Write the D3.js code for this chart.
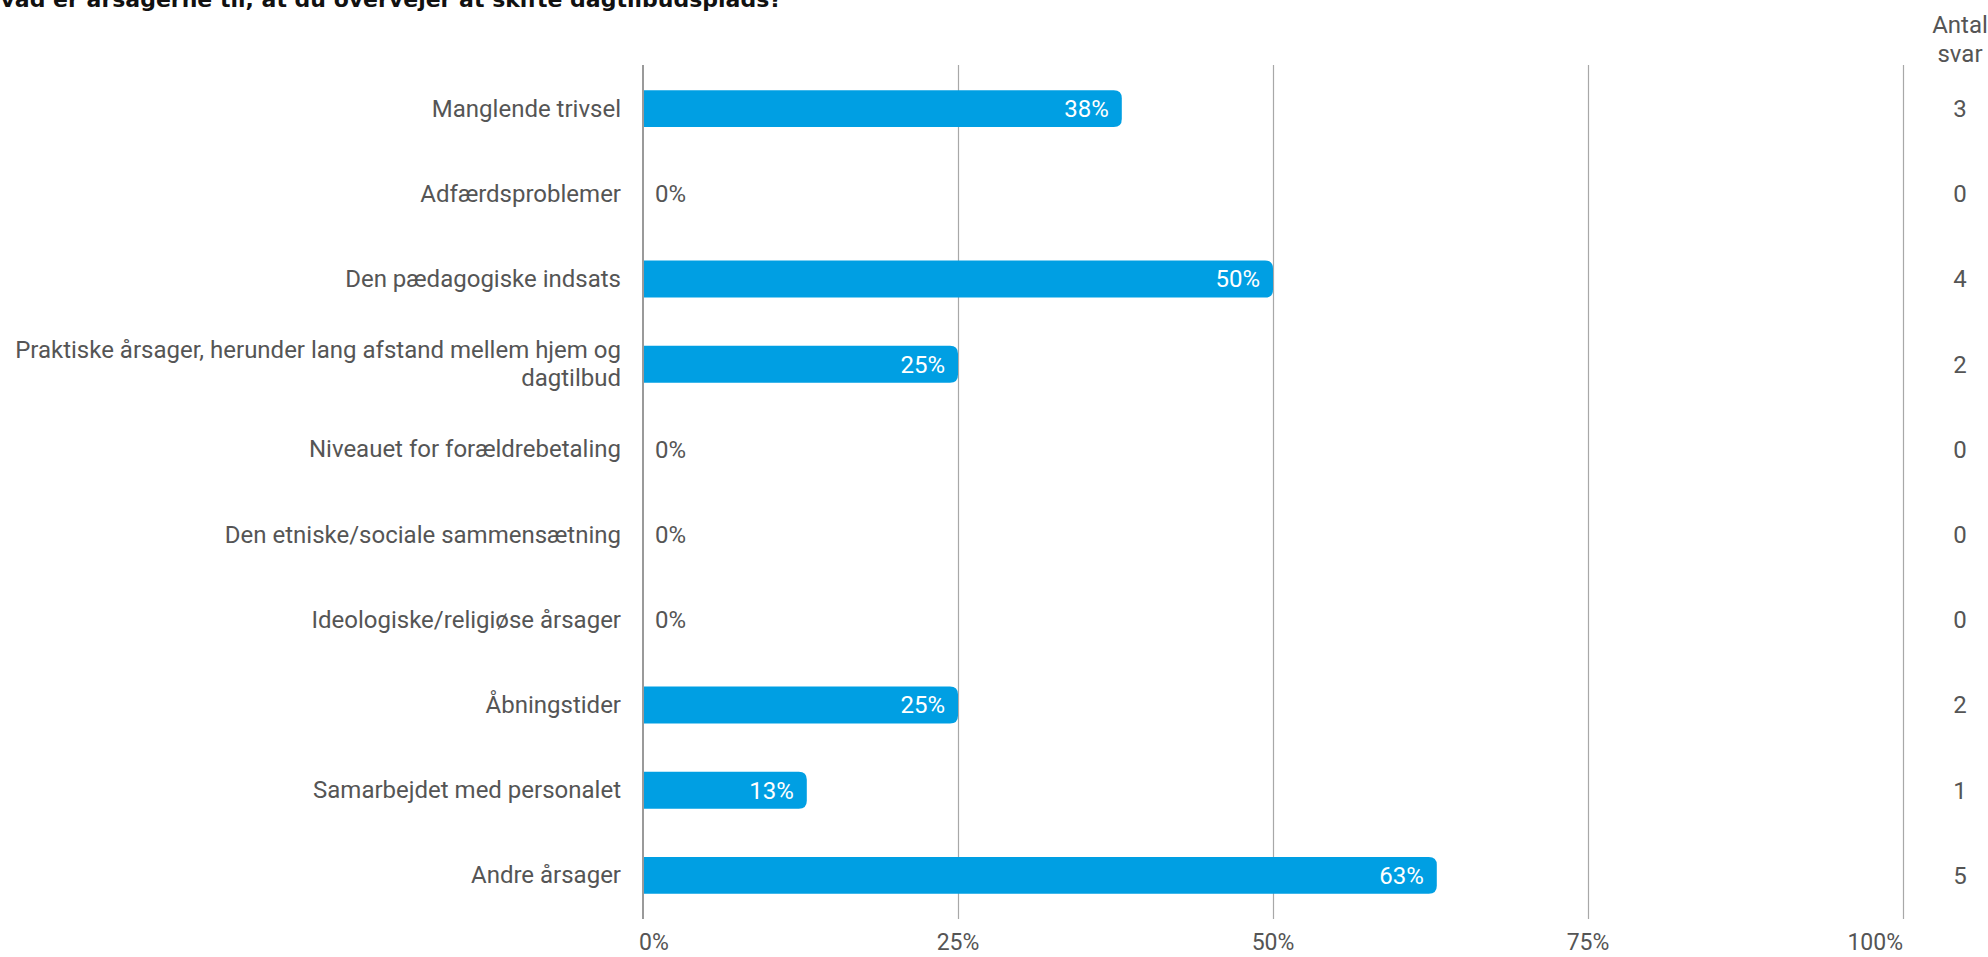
<!DOCTYPE html>
<html>
<head>
<meta charset="utf-8">
<script src="https://cdn.jsdelivr.net/npm/d3@7"></script>
<style>
  body { margin: 0; background: #fff; overflow: hidden; }
  svg { display: block; }
  text { font-family: Roboto, "Noto Sans", sans-serif; }
</style>
</head>
<body>
<svg id="chart" width="1988" height="957"></svg>
<script>
// Data
const categories = [
  "Manglende trivsel",
  "Adfærdsproblemer",
  "Den pædagogiske indsats",
  "Praktiske årsager, herunder lang afstand mellem hjem og dagtilbud",
  "Niveauet for forældrebetaling",
  "Den etniske/sociale sammensætning",
  "Ideologiske/religiøse årsager",
  "Åbningstider",
  "Samarbejdet med personalet",
  "Andre årsager"
];
const percentValues = [38, 0, 50, 25, 0, 0, 0, 25, 13, 63];
const answerCounts = [3, 0, 4, 2, 0, 0, 0, 2, 1, 5];
const xTicks = [0, 25, 50, 75, 100];
const title = "Hvad er årsagerne til, at du overvejer at skifte dagtilbudsplads?";

// split long labels by hand, like the original wrap
const labelLines = {
  "Praktiske årsager, herunder lang afstand mellem hjem og dagtilbud":
    ["Praktiske årsager, herunder lang afstand mellem hjem og", "dagtilbud"]
};

const rows = categories.map((c, i) => ({ label: c, pct: percentValues[i], n: answerCounts[i] }));

const svg = d3.select("#chart");

const x = d3.scaleLinear()
  .domain([0, 100])
  .range([643, 1903]);

const y = d3.scaleBand()
  .domain(categories)
  .range([65, 919])
  .paddingInner(0.566)
  .paddingOuter(0.295);

const barColor = "#009fe3";
const textColor = "#555555";
const fontSize = "24px";
const radius = 8;

// title (partly off the top-left edge in the original)
svg.append("text")
  .attr("x", 782)
  .attr("y", 7)
  .attr("text-anchor", "end")
  .style("font-family", "'DejaVu Sans', sans-serif")
  .style("font-weight", "bold")
  .style("font-size", "22px")
  .style("fill", "#111")
  .text(title);

// grid lines
svg.append("g")
  .selectAll("line")
  .data(xTicks.filter(t => t > 0))
  .join("line")
  .attr("x1", d => x(d) + 0.5)
  .attr("x2", d => x(d) + 0.5)
  .attr("y1", 65)
  .attr("y2", 919)
  .attr("stroke", "#a8a8a8")
  .attr("stroke-width", 1.2);

// tick labels, outer ones kept inside the range
svg.append("g")
  .selectAll("text")
  .data(xTicks)
  .join("text")
  .attr("x", (d, i) => i === 0 ? x(d) - 4 : x(d))
  .attr("y", 950)
  .attr("text-anchor", (d, i) => i === 0 ? "start" : (i === xTicks.length - 1 ? "end" : "middle"))
  .style("font-size", "23px")
  .style("fill", textColor)
  .text(d => d + "%");

// bars with rounded right end
function barPath(d) {
  const x0 = x(0), x1 = x(d.pct);
  const y0 = y(d.label), h = y.bandwidth();
  const r = Math.min(radius, (x1 - x0), h / 2);
  return `M${x0},${y0}H${x1 - r}Q${x1},${y0} ${x1},${y0 + r}` +
         `V${y0 + h - r}Q${x1},${y0 + h} ${x1 - r},${y0 + h}H${x0}Z`;
}

svg.append("g")
  .selectAll("path")
  .data(rows.filter(d => d.pct > 0))
  .join("path")
  .attr("d", barPath)
  .attr("fill", barColor);

// value labels
svg.append("g")
  .selectAll("text")
  .data(rows)
  .join("text")
  .attr("x", d => d.pct > 0 ? x(d.pct) - 13 : x(0) + 12)
  .attr("y", d => y(d.label) + y.bandwidth() / 2)
  .attr("dy", "0.35em")
  .attr("text-anchor", d => d.pct > 0 ? "end" : "start")
  .style("font-size", fontSize)
  .style("fill", d => d.pct > 0 ? "#fff" : textColor)
  .text(d => d.pct + "%");

// zero axis line
svg.append("line")
  .attr("x1", x(0))
  .attr("x2", x(0))
  .attr("y1", 65)
  .attr("y2", 919)
  .attr("stroke", "#9a9a9a")
  .attr("stroke-width", 2);

// category labels
const lineHeight = 28;
const catLabels = svg.append("g")
  .selectAll("text")
  .data(rows)
  .join("text")
  .attr("x", x(0) - 22)
  .attr("y", d => y(d.label) + y.bandwidth() / 2)
  .attr("text-anchor", "end")
  .style("font-size", fontSize)
  .style("fill", textColor);

catLabels.each(function(d) {
  const lines = labelLines[d.label] || [d.label];
  const first = -(lines.length - 1) / 2 * lineHeight;
  d3.select(this).selectAll("tspan")
    .data(lines)
    .join("tspan")
    .attr("x", x(0) - 22)
    .attr("dy", (l, i) => i === 0 ? (first + 8) : lineHeight)
    .text(l => l);
});

// "Antal svar" column
const countX = 1960;
svg.append("text")
  .attr("x", countX)
  .attr("y", 33)
  .attr("text-anchor", "middle")
  .style("font-size", fontSize)
  .style("fill", textColor)
  .selectAll("tspan")
  .data(["Antal", "svar"])
  .join("tspan")
  .attr("x", countX)
  .attr("dy", (d, i) => i === 0 ? 0 : 29)
  .text(d => d);

svg.append("g")
  .selectAll("text")
  .data(rows)
  .join("text")
  .attr("x", countX)
  .attr("y", d => y(d.label) + y.bandwidth() / 2)
  .attr("dy", "0.35em")
  .attr("text-anchor", "middle")
  .style("font-size", fontSize)
  .style("fill", textColor)
  .text(d => d.n);
</script>
</body>
</html>
